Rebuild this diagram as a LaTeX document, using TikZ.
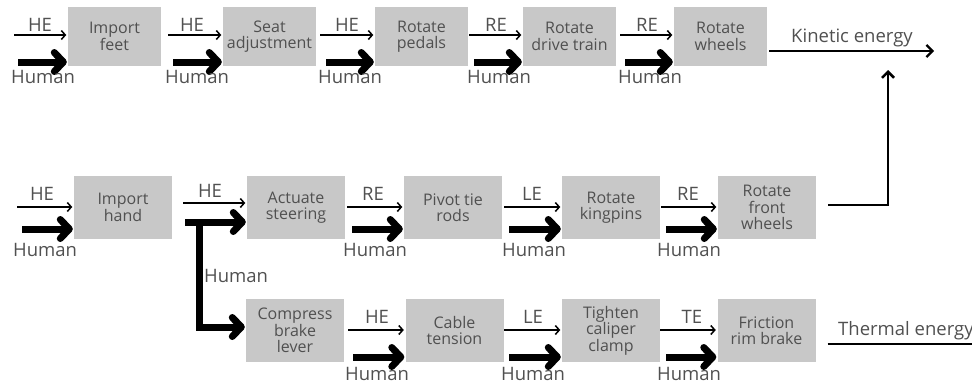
\documentclass[tikz,border=0pt]{standalone}
\usepackage{fontspec}
\setmainfont{Open Sans}
\usetikzlibrary{arrows.meta}
\definecolor{boxgray}{HTML}{C8C8C8}
\definecolor{txt}{HTML}{505050}
\newcommand\feedarrow[6]{%
  \coordinate (#1-a) at (#2,\thy);
  \coordinate (#1-b) at (#3,\tky);
  \draw[thinarr] (#1-a) -- (#1.west |- #1-a);
  \draw[thickarr] (#1-b) -- (#1.west |- #1-b);
  \node[lbl,anchor=base] (#1-lab) at (#5,\lby) {#4};
  \node[lbl,anchor=base west] (#1-hum) at (#6,\hmy) {Human};
}
\begin{document}
\begin{tikzpicture}[x=1pt,y=-1pt,
  boxa/.style={fill=boxgray,inner sep=0pt,align=center,text=txt,
    font=\fontsize{16}{16.5}\selectfont},
  boxtop/.style={boxa,minimum width=93pt,minimum height=59pt},
  boxmid/.style={boxa,minimum width=98pt,minimum height=63pt},
  lbl/.style={inner sep=0pt,text=txt,font=\fontsize{18.5}{20}\selectfont},
  thinarr/.style={line width=1.5pt,-{Straight Barb[length=4pt,width=9pt]},shorten >=1.5pt},
  thickarr/.style={line width=7pt,-{Straight Barb[length=9pt,width=19pt,round]},shorten >=1pt},
  conn/.style={line width=2.2pt}]
\useasboundingbox (0,0) rectangle (972,386);
% top row
\node[boxtop] (imfeet) at (114.5,36.5) {Import\\feet};
\node[boxtop] (seat) at (269.5,36.5) {Seat\\adjustment};
\node[boxtop] (pedals) at (421.5,36.5) {Rotate\\pedals};
\node[boxtop] (drive) at (569.5,36.5) {Rotate\\drive train};
\node[boxtop] (wheels) at (720.5,36.5) {Rotate\\wheels};
% middle row
\node[boxmid] (hand) at (123,207.5) {Import\\hand};
\node[boxmid] (steer) at (296,207.5) {Actuate\\steering};
\node[boxmid] (pivot) at (453,207.5) {Pivot tie\\rods};
\node[boxmid] (king) at (611,207.5) {Rotate\\kingpins};
\node[boxmid] (frw) at (767,207.5) {Rotate\\front\\wheels};
% bottom row
\node[boxmid] (lever) at (295,330.5) {Compress\\brake\\lever};
\node[boxmid] (cable) at (454.5,330.5) {Cable\\tension};
\node[boxmid] (clamp) at (611,330.5) {Tighten\\caliper\\clamp};
\node[boxmid] (rim) at (766.5,330.5) {Friction\\rim brake};
% top row feeds
\def\thy{35}\def\tky{62}\def\lby{31}\def\hmy{83}
\feedarrow{imfeet}{14}{18}{HE}{40}{11}
\feedarrow{seat}{168}{173}{HE}{192}{165}
\feedarrow{pedals}{320}{326}{HE}{347}{318}
\feedarrow{drive}{469}{474}{RE}{496}{467}
\feedarrow{wheels}{620}{625}{RE}{647}{618}
% middle row feeds
\def\thy{207}\def\tky{229}\def\lby{200}\def\hmy{256}
\feedarrow{hand}{17}{22}{HE}{42}{13}
\feedarrow{pivot}{347}{352}{RE}{373}{343}
\feedarrow{king}{504}{509}{LE}{532}{502}
\feedarrow{frw}{661}{666}{RE}{688}{657}
% bottom row feeds
\def\thy{330}\def\tky{357}\def\lby{323}\def\hmy{380}
\feedarrow{cable}{348}{353}{HE}{377}{345}
\feedarrow{clamp}{504}{509}{LE}{533}{501}
\feedarrow{rim}{660}{666}{TE}{692}{657}
% steering / brake split
\coordinate (st-a) at (183,203);
\coordinate (st-b) at (185,222);
\coordinate (st-j) at (199,222);
\draw[thinarr] (st-a) -- (steer.west |- st-a);
\draw[thickarr] (st-b) -- (steer.west |- st-b);
\draw[thickarr] (st-j) |- ([yshift=3.5pt]lever.west);
\node[lbl,anchor=base] (st-lab) at (210,197) {HE};
\node[lbl,anchor=base west] (st-hum) at (204,282) {Human};
% kinetic energy output
\coordinate (ke) at (934,51);
\path (wheels.east |- ke) ++(2,0) coordinate (ks);
\draw[conn,-{Straight Barb[length=6pt,width=12pt]}] (ks) -- (ke);
\node[lbl,anchor=base] (kel) at (852,42) {Kinetic energy};
\coordinate (kt) at (888,70);
\draw[line width=2.5pt,-{Straight Barb[length=6pt,width=12pt]}] ([xshift=12pt,yshift=2.5pt]frw.east) -| (kt);
% thermal energy output
\coordinate (te) at (972,344);
\path (rim.east |- te) ++(12,0) coordinate (ts);
\draw[conn] (ts) -- (te);
\node[lbl,anchor=base west] (tel) at (838,335) {Thermal energy};
\end{tikzpicture}
\end{document}
